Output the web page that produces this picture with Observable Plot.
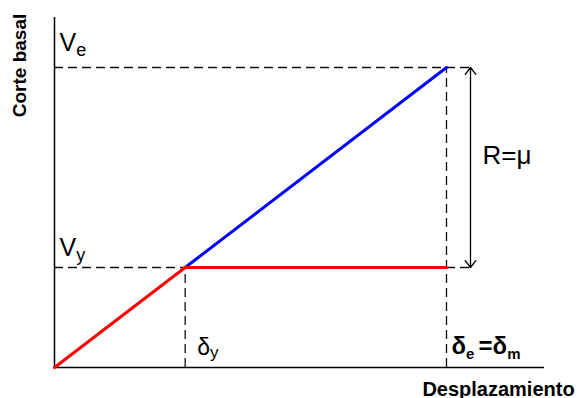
<!DOCTYPE html>
<html><head><meta charset="utf-8">
<script src="https://cdn.jsdelivr.net/npm/d3@7"></script>
<script src="https://cdn.jsdelivr.net/npm/@observablehq/plot@0.6"></script>
<style>body{margin:0;background:#fff;} svg{display:block;}</style>
</head><body><div id="chart"></div>
<script>
// Displacement values (δy, δe = δm) and base shear values (Vy, Ve)
const deltaY = 1, deltaE = 3;
const Vy = 1, Ve = 3;
// Elastic response (blue) and bilinear elastoplastic response (red)
const elasticX = [deltaY, deltaE];
const elasticV = [Vy, Ve];
const bilinearX = [0, deltaY, deltaE];
const bilinearV = [0, Vy, Vy];
// Texts
const xTitle = "Desplazamiento";
const yTitle = "Corte basal";
const labelVe = [["V"], ["e", 1]];
const labelVy = [["V"], ["y", 1]];
const labelDy = [["δ"], ["y", 1]];
const labelDe = [["δ"], ["e", 1], [" ", 1], ["=δ"], ["m", 1]];
const labelR = "R=μ";

const elastic = elasticX.map((x, i) => ({x, y: elasticV[i]}));
const bilinear = bilinearX.map((x, i) => ({x, y: bilinearV[i]}));

const font = "'Liberation Sans', Arial, sans-serif";
const xTop = 3.75, yTop = 3.5, ext = 0.21;

function rich(datum, segs, o) {
  return Plot.text([datum], {
    x: d => d.x, y: d => d.y, dx: o.dx, dy: o.dy,
    text: () => segs.map(s => s[0]).join(""),
    textAnchor: "start", lineAnchor: "bottom",
    fontSize: o.size, fontWeight: o.weight || "normal", fontFamily: font, fill: "black",
    render(index, scales, values, dims, ctx, next) {
      const g = next(index, scales, values, dims, ctx);
      d3.select(g).selectAll("text").each(function() {
        const t = d3.select(this);
        t.text(null);
        let shift = 0;
        for (const [s, sub] of segs) {
          const target = sub ? o.subShift : 0;
          const ts = t.append("tspan").text(s).attr("dy", target - shift);
          if (sub) ts.attr("font-size", o.subSize);
          shift = target;
        }
      });
      return g;
    }
  });
}

const dash = {stroke: "#111", strokeWidth: 1.3, strokeDasharray: "9,5"};

const plot = Plot.plot({
  width: 581, height: 398,
  marginTop: 0, marginRight: 0, marginBottom: 0, marginLeft: 0,
  style: {background: "white", fontFamily: font},
  x: {domain: [0, deltaE], range: [54, 446], axis: null},
  y: {domain: [0, Ve], range: [367, 67], axis: null},
  marks: [
    Plot.ruleY([Ve, Vy], {x1: 0, x2: deltaE + ext, ...dash}),
    Plot.ruleX([deltaY], {y1: 0, y2: Vy, ...dash}),
    Plot.ruleX([deltaE], {y1: 0, y2: Ve, ...dash}),
    Plot.ruleX([0], {y1: 0, y2: yTop, stroke: "black", strokeWidth: 1.5}),
    Plot.ruleY([0], {x1: 0, x2: xTop, stroke: "black", strokeWidth: 1.5}),
    Plot.line(elastic, {x: "x", y: "y", stroke: "blue", strokeWidth: 3}),
    Plot.line(bilinear, {x: "x", y: "y", stroke: "red", strokeWidth: 3}),
    Plot.arrow([Ve, Vy], {x1: deltaE, x2: deltaE, y1: (Vy + Ve) / 2, y2: d => d, dx: 24,
      stroke: "black", strokeWidth: 1.3, headLength: 10, headAngle: 75}),
    rich({x: 0, y: Ve}, labelVe, {size: 25, subSize: 18, subShift: 5, dx: 5, dy: -17}),
    rich({x: 0, y: Vy}, labelVy, {size: 25, subSize: 18, subShift: 5, dx: 5, dy: -12}),
    rich({x: deltaY, y: 0}, labelDy, {size: 23, subSize: 17, subShift: 3, dx: 12, dy: -13}),
    rich({x: deltaE, y: 0}, labelDe, {size: 24, weight: "bold", subSize: 15, subShift: 5, dx: 5, dy: -14}),
    Plot.text([labelR], {x: deltaE, y: (Vy + Ve) / 2, text: d => d, dx: 36, dy: -4,
      textAnchor: "start", lineAnchor: "bottom", fontSize: 26, fontFamily: font, fill: "black"}),
    Plot.text([yTitle], {frameAnchor: "top-left", text: d => d, dx: 25, dy: 65, rotate: -90,
      textAnchor: "middle", lineAnchor: "bottom", fontSize: 19, fontWeight: "bold", fontFamily: font, fill: "black"}),
    Plot.text([xTitle], {frameAnchor: "top-left", text: d => d, dx: 498, dy: 395,
      textAnchor: "middle", lineAnchor: "bottom", fontSize: 20, fontWeight: "bold", fontFamily: font, fill: "black"})
  ]
});
document.getElementById("chart").append(plot);
</script>
</body></html>
